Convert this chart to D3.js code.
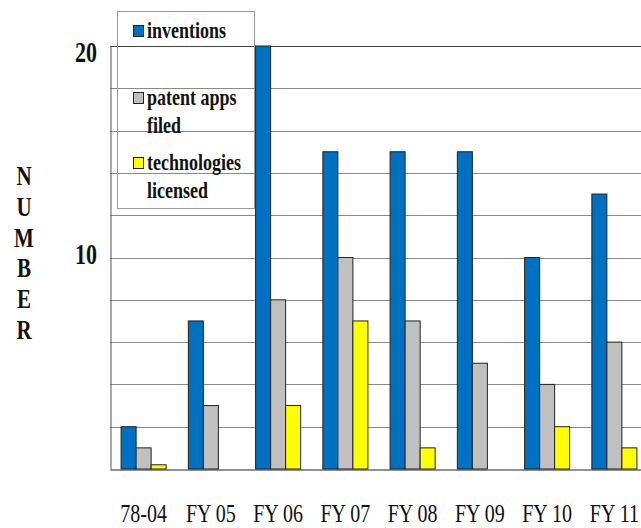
<!DOCTYPE html>
<html>
<head>
<meta charset="utf-8">
<script src="https://cdn.jsdelivr.net/npm/d3@7"></script>
<style>
  body { margin: 0; background: #fff; }
</style>
</head>
<body>
<svg id="chart" width="641" height="528"></svg>
<script>
// chart data
const categories = ["78-04", "FY 05", "FY 06", "FY 07", "FY 08", "FY 09", "FY 10", "FY 11"];
const inventions = [2, 7, 20, 15, 15, 15, 10, 13];
const patentApps = [1, 3, 8, 10, 7, 5, 4, 6];
const techLicensed = [0.2, 0, 3, 7, 1, 0, 2, 1];
const yLabels = [10, 20];
const axisTitle = "NUMBER";

const seriesNames = ["inventions", "patent apps filed", "technologies licensed"];
const seriesColors = ["#0070c0", "#c0c0c0", "#ffff00"];
const legendLines = [["inventions"], ["patent apps", "filed"], ["technologies", "licensed"]];
const seriesValues = [inventions, patentApps, techLicensed];

const svg = d3.select('#chart')

const margin = {left: 110, top: 46, bottom: 469, right: 648}

const x = d3.scaleBand().domain(categories).range([margin.left, margin.right])
  .paddingInner(0.33).paddingOuter(0.165)
const xs = d3.scaleBand().domain(seriesNames).range([0, x.bandwidth()])
const y = d3.scaleLinear().domain([0, 20]).range([margin.bottom, margin.top])

// stretched text helper (the picture is stretched vertically, text too)
function label(parent, tx, ty, str, size, weight, anchor, stretch) {
  parent.append('g').attr('transform', `translate(${tx},${ty}) scale(1,${stretch || 1.3})`)
    .append('text').text(str)
    .attr('font-family', 'Liberation Serif')
    .attr('font-size', size).attr('font-weight', weight)
    .attr('text-anchor', anchor || 'start')
    .attr('fill', '#111')
}

// gridlines
svg.append('g').selectAll('line').data(y.ticks(10).filter(t => t > 0)).enter().append('line')
  .attr('x1', margin.left).attr('x2', margin.right)
  .attr('y1', d => Math.round(y(d)) + 0.5).attr('y2', d => Math.round(y(d)) + 0.5)
  .attr('stroke', d => d === 20 ? '#444' : '#8a8a8a').attr('stroke-width', 1)

// bars
const rows = []
categories.forEach((c, i) => seriesNames.forEach((s, j) => {
  rows.push({cat: c, series: s, value: seriesValues[j][i], color: seriesColors[j]})
}))
svg.append('g').selectAll('rect').data(rows.filter(r => r.value > 0)).enter().append('rect')
  .attr('x', d => x(d.cat) + xs(d.series))
  .attr('y', d => y(d.value))
  .attr('width', xs.bandwidth())
  .attr('height', d => y(0) - y(d.value))
  .attr('fill', d => d.color)
  .attr('stroke', '#222').attr('stroke-width', 1)

// axes lines
const yAxis = d3.axisLeft(y).tickValues([]).tickSize(0)
svg.append('g').attr('transform', `translate(${margin.left + 0.5},0)`).call(yAxis)
  .select('.domain').attr('stroke', '#555')
const xAxis = d3.axisBottom(x).tickSize(0).tickFormat('')
svg.append('g').attr('transform', `translate(0,${Math.round(y(0)) + 0.5})`).call(xAxis)
  .select('.domain').attr('stroke', '#222')

// y labels (top one sits below its line, the 10 sits just above)
yLabels.forEach(v => label(svg, 97, y(v) + (v === 20 ? 16 : 6), v, 22, 'bold', 'end'))

// x labels
categories.forEach(c => label(svg, x(c) + x.bandwidth() / 2, 522, c, 20, 'normal', 'middle', 1.3))

// vertical title
axisTitle.split('').forEach((ch, i) => label(svg, 24, 185 + i * 30.8, ch, 21, 'bold', 'middle'))

// legend
const lg = svg.append('g')
lg.append('rect').attr('x', 117.5).attr('y', 11.5).attr('width', 137).attr('height', 197)
  .attr('fill', 'none').attr('stroke', '#999')
const legendY = [25, 92, 157]
seriesNames.forEach((s, j) => {
  lg.append('rect').attr('x', 133.5).attr('y', legendY[j] + 0.5).attr('width', 10).attr('height', 11)
    .attr('fill', seriesColors[j]).attr('stroke', '#222')
  legendLines[j].forEach((t, k) => label(lg, 147, legendY[j] + 13 + k * 28, t, 18, 'bold'))
})
</script>
</body>
</html>
